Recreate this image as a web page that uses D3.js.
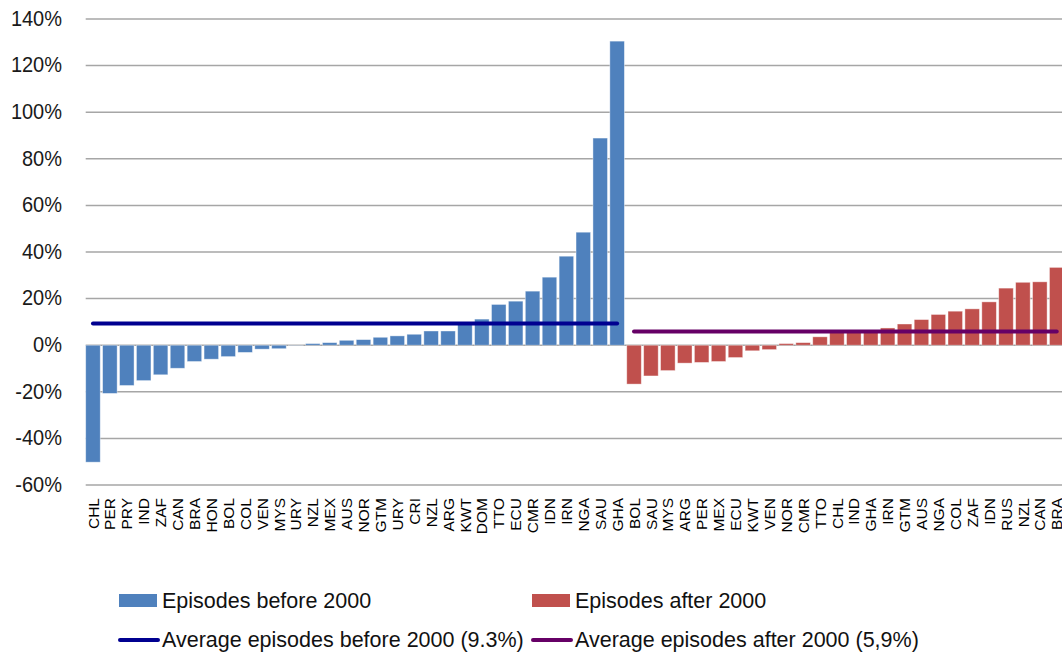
<!DOCTYPE html>
<html>
<head>
<meta charset="utf-8">
<script src="https://cdn.jsdelivr.net/npm/d3@7"></script>
<style>
  html, body { margin: 0; padding: 0; background: #fff; }
  svg { display: block; }
</style>
</head>
<body>
<svg id="chart" width="1062" height="657"></svg>
<script>
// Episodes before 2000 (sorted ascending)
const beforeCountries = ["CHL","PER","PRY","IND","ZAF","CAN","BRA","HON","BOL","COL","VEN","MYS","URY","NZL","MEX","AUS","NOR","GTM","URY","CRI","NZL","ARG","KWT","DOM","TTO","ECU","CMR","IDN","IRN","NGA","SAU","GHA"];
const beforeValues = [-50.2,-20.7,-17.3,-15.2,-12.7,-9.9,-7.0,-6.0,-4.9,-3.1,-1.7,-1.5,-0.1,0.7,1.1,2.1,2.4,3.4,4.0,4.7,6.1,6.1,9.0,11.2,17.5,18.9,23.2,29.2,38.2,48.5,88.9,130.5];

// Episodes after 2000 (sorted ascending)
const afterCountries = ["BOL","SAU","MYS","ARG","PER","MEX","ECU","KWT","VEN","NOR","CMR","TTO","CHL","IND","GHA","IRN","GTM","AUS","NGA","COL","ZAF","IDN","RUS","NZL","CAN","BRA"];
const afterValues = [-16.7,-13.2,-10.9,-7.7,-7.4,-7.0,-5.3,-2.4,-1.9,0.7,1.1,3.6,5.4,5.8,6.0,7.4,9.1,11.0,13.2,14.6,15.6,18.6,24.5,27.0,27.2,33.4];

const avgBefore = 9.3;
const avgAfter = 5.9;

const yTicks = [-60,-40,-20,0,20,40,60,80,100,120,140];

const colors = {
  before: "#4F81BD",
  after: "#C0504D",
  avgBefore: "#000090",
  avgAfter: "#660066",
  grid: "#A6A6A6"
};

const bars = [
  ...beforeCountries.map((c, i) => ({ key: i, country: c, value: beforeValues[i], group: "before" })),
  ...afterCountries.map((c, i) => ({ key: beforeCountries.length + i, country: c, value: afterValues[i], group: "after" }))
];

const svg = d3.select("#chart");
const left = 85.7, right = 1064, plotRight = 1062;
const sansFont = "'Liberation Sans', Arial, sans-serif";

const x = d3.scaleBand()
  .domain(bars.map(d => d.key))
  .range([left, right])
  .paddingInner(0.14)
  .paddingOuter(0);

const y = d3.scaleLinear().domain([-60, 140]).range([485, 19]);

// Horizontal gridlines
svg.append("g").selectAll("line")
  .data(yTicks)
  .join("line")
  .attr("x1", left).attr("x2", plotRight)
  .attr("y1", d => y(d)).attr("y2", d => y(d))
  .attr("stroke", colors.grid)
  .attr("stroke-width", 1.5);

// Y tick labels (slightly condensed)
svg.append("g").selectAll("text")
  .data(yTicks)
  .join("text")
  .attr("transform", d => `translate(62,${y(d)}) scale(0.93,1)`)
  .attr("dy", "0.32em")
  .attr("text-anchor", "end")
  .attr("font-family", sansFont)
  .attr("font-size", 21.5)
  .attr("fill", "#1a1a1a")
  .text(d => d + "%");

// Bars
svg.append("g").selectAll("rect")
  .data(bars)
  .join("rect")
  .attr("x", d => x(d.key))
  .attr("width", x.bandwidth())
  .attr("y", d => y(Math.max(0, d.value)))
  .attr("height", d => Math.abs(y(d.value) - y(0)))
  .attr("fill", d => colors[d.group])
  .attr("stroke", "#fff")
  .attr("stroke-opacity", 0.5)
  .attr("stroke-width", 0.8);

// Average lines
const firstAfter = beforeCountries.length;
const lastBar = bars.length - 1;
const avgLines = [
  { from: 0, to: firstAfter - 1, value: avgBefore, color: colors.avgBefore },
  { from: firstAfter, to: lastBar, value: avgAfter, color: colors.avgAfter }
];
svg.append("g").selectAll("line")
  .data(avgLines)
  .join("line")
  .attr("x1", d => x(d.from) + x.bandwidth() / 2)
  .attr("x2", d => x(d.to) + x.bandwidth() / 2)
  .attr("y1", d => y(d.value)).attr("y2", d => y(d.value))
  .attr("stroke", d => d.color)
  .attr("stroke-width", 4)
  .attr("stroke-linecap", "round");

// Category labels
svg.append("g").selectAll("text")
  .data(bars)
  .join("text")
  .attr("transform", d => `translate(${x(d.key) + x.bandwidth() / 2},498) rotate(-90)`)
  .attr("dy", "0.36em")
  .attr("text-anchor", "end")
  .attr("font-family", sansFont)
  .attr("font-size", 15.5)
  .attr("fill", "#000")
  .text(d => d.country);

// Legend
const legendItems = [
  { type: "rect", color: colors.before, label: "Episodes before 2000", x: 119, y: 600.5 },
  { type: "rect", color: colors.after, label: "Episodes after 2000", x: 532, y: 600.5 },
  { type: "line", color: colors.avgBefore, label: "Average episodes before 2000 (9.3%)", x: 119, y: 640 },
  { type: "line", color: colors.avgAfter, label: "Average episodes after 2000 (5,9%)", x: 532, y: 640 }
];
const lg = svg.append("g").selectAll("g")
  .data(legendItems)
  .join("g")
  .attr("transform", d => `translate(${d.x},${d.y})`);

lg.filter(d => d.type === "rect").append("rect")
  .attr("x", 0).attr("y", -6.5)
  .attr("width", 38).attr("height", 13)
  .attr("fill", d => d.color);

lg.filter(d => d.type === "line").append("line")
  .attr("x1", 1).attr("x2", 39)
  .attr("y1", 0).attr("y2", 0)
  .attr("stroke", d => d.color)
  .attr("stroke-width", 4)
  .attr("stroke-linecap", "round");

lg.append("text")
  .attr("x", 43)
  .attr("y", 0)
  .attr("dy", "0.34em")
  .attr("font-family", sansFont)
  .attr("font-size", 21.5)
  .attr("fill", "#111")
  .text(d => d.label);
</script>
</body>
</html>
